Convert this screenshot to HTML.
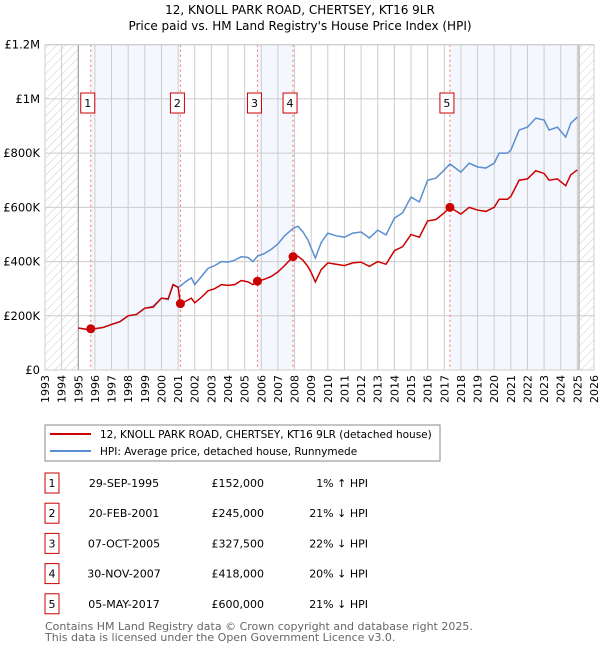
<!DOCTYPE html>
<html><head><meta charset="utf-8"><style>
body{margin:0;background:#fff;}
svg{display:block;font-family:"DejaVu Sans","Liberation Sans",sans-serif;}
</style></head><body>
<svg id="c" width="600" height="650" viewBox="0 0 600 650">
<defs>
<pattern id="hatch" width="6" height="6" patternUnits="userSpaceOnUse" patternTransform="rotate(45)">
<line x1="0" y1="0" x2="0" y2="6" stroke="#ccc" stroke-width="1"/>
</pattern>
</defs>
<text x="300" y="14" text-anchor="middle" font-size="12">12, KNOLL PARK ROAD, CHERTSEY, KT16 9LR</text>
<text x="300" y="30" text-anchor="middle" font-size="12">Price paid vs. HM Land Registry's House Price Index (HPI)</text>
<g id="plot"></g>
<g>
<rect x="45" y="425" width="395" height="36" fill="#fff" stroke="#888"/>
<line x1="50" y1="434" x2="91" y2="434" stroke="#cc0000" stroke-width="2"/>
<text x="100" y="438" font-size="10.5">12, KNOLL PARK ROAD, CHERTSEY, KT16 9LR (detached house)</text>
<line x1="50" y1="451" x2="91" y2="451" stroke="#5b8fd0" stroke-width="2"/>
<text x="100" y="455" font-size="10.5">HPI: Average price, detached house, Runnymede</text>
</g>
<g id="table"></g>
<text x="45" y="630" font-size="11" fill="#666">Contains HM Land Registry data © Crown copyright and database right 2025.</text>
<text x="45" y="641" font-size="11" fill="#666">This data is licensed under the Open Government Licence v3.0.</text>
</svg>
<script>
const dates=[1995.0,1995.5,1995.75,1996.0,1996.5,1997.0,1997.5,1998.0,1998.5,1999.0,1999.5,2000.0,2000.4,2000.7,2001.0,2001.14,2001.5,2001.8,2002.0,2002.4,2002.8,2003.2,2003.6,2004.0,2004.4,2004.8,2005.2,2005.5,2005.77,2006.2,2006.6,2007.0,2007.4,2007.91,2008.2,2008.5,2008.8,2009.0,2009.25,2009.6,2010.0,2010.5,2011.0,2011.5,2012.0,2012.5,2013.0,2013.5,2014.0,2014.5,2015.0,2015.5,2016.0,2016.5,2017.0,2017.34,2018.0,2018.5,2019.0,2019.5,2020.0,2020.3,2020.8,2021.0,2021.5,2022.0,2022.5,2023.0,2023.3,2023.8,2024.3,2024.6,2025.0];
const hpiValues=[155,150,152,152,157,168,178,200,205,228,235,265,260,315,305,310,328,340,315,345,375,385,400,398,405,418,415,400,420,430,445,465,495,522,530,510,480,450,413,470,505,495,490,505,509,487,516,498,560,580,638,620,700,708,738,760,730,763,749,745,763,800,800,811,885,896,929,922,885,896,859,910,933];
const priceValues=[155,150,152,152,157,168,178,200,205,228,232,265,262,315,305,245,255,265,248,268,292,300,315,312,315,330,325,315,327.5,335,345,362,385,418,420,405,382,360,325,370,395,390,385,395,398,382,400,390,440,455,500,490,550,555,580,600,575,600,590,585,600,630,630,640,700,705,735,725,700,705,680,720,738];
const saleDates=[1995.75,2001.14,2005.77,2007.91,2017.34];
const salePrices=[152,245,327.5,418,600];
const saleLabels=["1","2","3","4","5"];
const saleDateText=["29-SEP-1995","20-FEB-2001","07-OCT-2005","30-NOV-2007","05-MAY-2017"];
const salePriceText=["£152,000","£245,000","£327,500","£418,000","£600,000"];
const saleHpiText=["1% ↑ HPI","21% ↓ HPI","22% ↓ HPI","20% ↓ HPI","21% ↓ HPI"];
const yTicks=[0,200,400,600,800,1000,1200];
const yTickLabels=["£0","£200K","£400K","£600K","£800K","£1M","£1.2M"];
const x0=45,x1=594,y0=370,y1=44.7,yr0=1993,yr1=2026,vmax=1200;
const X=t=>x0+(t-yr0)/(yr1-yr0)*(x1-x0);
const Y=v=>y0-v/vmax*(y0-y1);
const NS="http://www.w3.org/2000/svg";
const plot=document.getElementById('plot');
function mk(tag,attrs,parent){const e=document.createElementNS(NS,tag);for(const k in attrs)e.setAttribute(k,attrs[k]);(parent||plot).appendChild(e);return e;}
const bands=[[saleDates[0],saleDates[1]],[saleDates[2],saleDates[3]],[saleDates[4],2025.1]];
bands.forEach(b=>{const r=mk('rect',{x:X(b[0]),y:y1,width:X(b[1])-X(b[0]),height:y0-y1,fill:'#f4f7fd'});

});
let h=mk('rect',{x:X(1993),y:y1,width:X(1995)-X(1993),height:y0-y1,fill:'url(#hatch)'});


h=mk('rect',{x:X(2025.1),y:y1,width:X(2026)-X(2025.1),height:y0-y1,fill:'url(#hatch)'});


for(let t=yr0;t<=yr1;t++){const l=mk('line',{x1:X(t),x2:X(t),y1:y1,y2:y0,stroke:'#ccc','stroke-width':1});


const tx=mk('text',{x:0,y:0,'font-size':11,'text-anchor':'end',transform:`translate(${X(t)+4},${y0+5}) rotate(-90)`});
tx.textContent=t;

}
yTicks.forEach((v,i)=>{const l=mk('line',{x1:x0,x2:x1,y1:Y(v),y2:Y(v),stroke:'#ccc','stroke-width':1});


const tx=mk('text',{x:40,y:Y(v)+4,'font-size':11.5,'text-anchor':'end'});
tx.textContent=yTickLabels[i];

});
let l=mk('line',{x1:X(1995),x2:X(1995),y1:y1,y2:y0,stroke:'#999'});


l=mk('line',{x1:X(2025.1),x2:X(2025.1),y1:y1,y2:y0,stroke:'#999'});


saleDates.forEach((d,i)=>{const sl=mk('line',{x1:X(d),x2:X(d),y1:y1,y2:y0,stroke:'#f07070','stroke-dasharray':'2,3','stroke-width':1});

});
const hp=mk('polyline',{points:dates.map((d,i)=>X(d)+','+Y(hpiValues[i])).join(' '),fill:'none',stroke:'#5b8fd0','stroke-width':1.5});


const pp=mk('polyline',{points:dates.map((d,i)=>X(d)+','+Y(priceValues[i])).join(' '),fill:'none',stroke:'#cc0000','stroke-width':1.5});


saleDates.forEach((d,i)=>{const c=mk('circle',{cx:X(d),cy:Y(salePrices[i]),r:4.5,fill:'#cc0000'});


const g=mk('g',{});


mk('rect',{x:X(d)-10,y:93,width:14,height:20,fill:'#fff',stroke:'#cc0000'},g);
const t=mk('text',{x:X(d)-3,y:107,'font-size':11,'text-anchor':'middle'},g);t.textContent=saleLabels[i];});
mk('rect',{x:x0,y:y1,width:x1-x0,height:y0-y1,fill:'none',stroke:'#ccc'});
const tb=document.getElementById('table');
saleLabels.forEach((s,i)=>{const cy=483+i*30.2;
const g=mk('g',{},tb);


mk('rect',{x:45,y:cy-10,width:14,height:20,fill:'#fff',stroke:'#cc0000'},g);
let t=mk('text',{x:52,y:cy+4,'font-size':11,'text-anchor':'middle'},g);t.textContent=s;
t=mk('text',{x:124,y:cy+4,'font-size':11,'text-anchor':'middle'},g);t.textContent=saleDateText[i];
t=mk('text',{x:264,y:cy+4,'font-size':11,'text-anchor':'end'},g);t.textContent=salePriceText[i];
t=mk('text',{x:368,y:cy+4,'font-size':11,'text-anchor':'end'},g);t.textContent=saleHpiText[i];});
</script>
</body></html>
